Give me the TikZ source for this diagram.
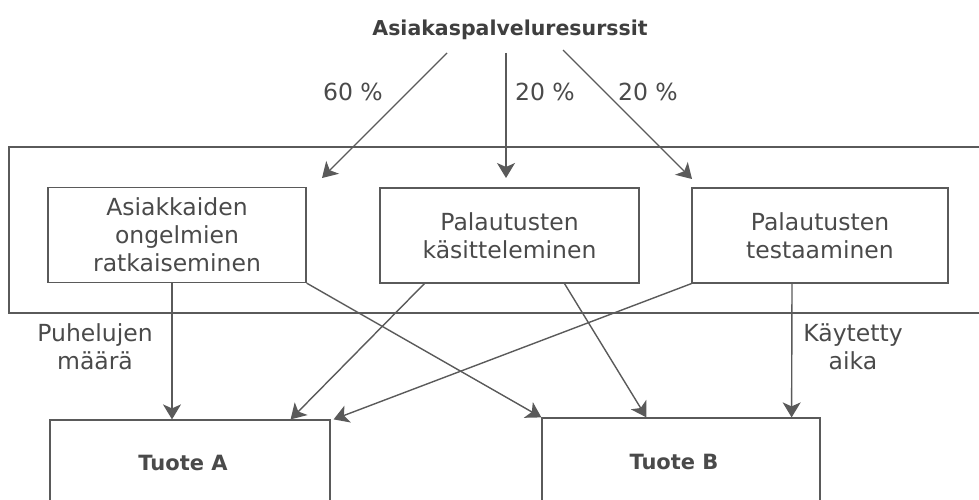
\documentclass[tikz,border=0pt]{standalone}
\usepackage{fontspec}
\setmainfont{DejaVu Sans}
\usetikzlibrary{arrows.meta,calc}
\definecolor{ink}{HTML}{4A4A4A}
\definecolor{wire}{HTML}{5A5A5A}
\begin{document}
\begin{tikzpicture}[x=1pt,y=-1pt,
  txt/.style={text=ink,font=\fontsize{23.5}{28}\selectfont,align=center,inner sep=0pt},
  taskbox/.style={draw=wire,line width=1.2pt,txt,minimum height=95pt},
  prodbox/.style={draw=wire,line width=1.2pt,text=ink,font=\fontsize{21}{26}\bfseries\selectfont,inner sep=0pt},
  flow/.style={draw=wire,line width=1.4pt,-{Stealth[length=15pt,width=18pt,inset=4pt]}}]
\useasboundingbox (0,0) rectangle (979,500);

% resource pool and the frame around the activities
\node[text=ink!85!black,font=\fontsize{20.5}{24}\bfseries\selectfont,inner sep=0pt] (res) at (510,30) {Asiakaspalveluresurssit};
\draw[wire,line width=1.2pt] (990,147) -- (9,147) -- (9,313) -- (990,313);

% activities
\node[taskbox,minimum width=258pt] (b1) at (177,235) {Asiakkaiden\\ongelmien\\ratkaiseminen};
\node[taskbox,minimum width=259pt] (b2) at (509.5,235.5) {Palautusten\\käsitteleminen};
\node[taskbox,minimum width=256pt] (b3) at (820,235.5) {Palautusten\\testaaminen};

% products (boxes run past the lower edge)
\node[prodbox,minimum width=280pt,minimum height=86pt] (ta) at (190,463) {Tuote A\hspace*{14pt}};
\node[prodbox,minimum width=278pt,minimum height=88pt] (tb) at (681,462) {Tuote B\hspace*{14pt}};

% resource split
\coordinate (s1) at (447,53);
\coordinate (s2) at (506,53);
\coordinate (s3) at (563,50);
\coordinate (e1) at (322,178);
\coordinate (e2) at (506,178);
\coordinate (e3) at (692,179);
\draw[flow] (s1) -- (e1);
\draw[flow] (s2) -- (e2);
\draw[flow] (s3) -- (e3);
\node[txt] (p1) at (353,92) {60 \%};
\node[txt] (p2) at (545,92) {20 \%};
\node[txt] (p3) at (648,92) {20 \%};

% cost drivers
\draw[flow] ([xshift=-5pt]b1.south) -- ([xshift=-18pt]ta.north);
\draw[flow] (b1.south east) -- (tb.north west);
\draw[flow] ([xshift=45pt]b2.south west) -- ([xshift=-40pt]ta.north east);
\draw[flow] ([xshift=55pt]b2.south) -- ([xshift=105pt]tb.north west);
\draw[flow] (b3.south west) -- ([xshift=3pt]ta.north east);
\draw[flow] ([xshift=-28pt]b3.south) -- ([xshift=-29pt]tb.north east);

\node[txt,text height=17pt,text depth=5pt] (l1) at (95,363) {Puhelujen\\määrä};
\node[txt,text height=17pt,text depth=5pt] (l2) at (853,363) {Käytetty\\aika};
\end{tikzpicture}
\end{document}
